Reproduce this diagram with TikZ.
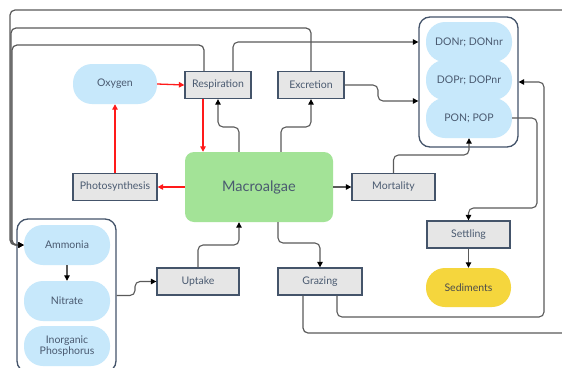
\documentclass[tikz,border=0pt]{standalone}
\usepackage{fontspec}
\setmainfont{Lato}
\usetikzlibrary{arrows.meta,positioning,calc}
\definecolor{txt}{HTML}{4A5A70}
\definecolor{bord}{HTML}{44546A}
\definecolor{boxfill}{HTML}{E6E6E6}
\definecolor{blue}{HTML}{C7E8FB}
\definecolor{green}{HTML}{A3E397}
\definecolor{yell}{HTML}{F5D63D}
\definecolor{conc}{HTML}{5A5A5A}
\definecolor{redc}{HTML}{FF1A1A}
\tikzset{
  procbox/.style={draw=bord, line width=1.3pt, fill=boxfill, minimum width=#1, minimum height=27pt, inner sep=0pt, text=txt, font=\fontsize{10.5}{12}\selectfont},
  procbox/.default=66pt,
  blob/.style={fill=blue, rounded corners=19pt, minimum width=#1, minimum height=40pt, inner sep=0pt, text=txt, font=\fontsize{10.5}{12}\selectfont, align=center},
  blob/.default=86pt,
  group/.style={draw=bord, line width=1.3pt, rounded corners=11pt, inner sep=0pt},
  conn/.style={draw=conc, line width=1.1pt, rounded corners=5pt, -{Triangle[length=5.5pt,width=5.5pt,color=black]}},
  loopc/.style={draw=conc, line width=1.2pt, rounded corners=5pt, -{Triangle[length=5.5pt,width=5.5pt,color=black]}},
  redarr/.style={draw=redc, line width=1.3pt, -{Triangle[length=5.5pt,width=5.5pt]}},
}
\begin{document}
\begin{tikzpicture}[x=1pt,y=-1pt]
\clip (0,0) rectangle (562,367);
\fill[white] (0,0) rectangle (562,367);
% groups
\node[group, minimum width=99pt, minimum height=130pt] (donbox) at (468.5,82) {};
\node[group, minimum width=99pt, minimum height=153pt] (nutbox) at (66.5,295.5) {};
% nodes
\node[blob=84pt] (oxy) at (115,84) {Oxygen};
\node[procbox] (resp) at (218,85) {Respiration};
\node[procbox] (exc) at (311,85) {Excretion};
\node[procbox=84pt] (photo) at (115,187) {Photosynthesis};
\node[fill=green, rounded corners=9pt, minimum width=148pt, minimum height=70pt, text=txt, font=\fontsize{14.5}{16}\selectfont] (alg) at (259,187) {Macroalgae};
\node[procbox=83pt] (mort) at (393.5,187) {Mortality};
\node[blob] (donr) at (469,42) {DONr; DONnr};
\node[blob] (dopr) at (469,80) {DOPr; DOPnr};
\node[blob] (pon) at (469,118) {PON; POP};
\node[procbox=83pt] (settl) at (468.5,234.5) {Settling};
\node[fill=yell, rounded corners=19pt, minimum width=85pt, minimum height=39pt, text=black!70, font=\fontsize{10.5}{12}\selectfont] (sed) at (468.5,287.5) {Sediments};
\node[procbox=84pt] (graz) at (320,281.5) {Grazing};
\node[procbox=82pt] (upt) at (198,281.5) {Uptake};
\node[blob] (amm) at (67,245) {Ammonia};
\node[blob] (nit) at (67,301) {Nitrate};
\node[blob] (inp) at (67,346) {Inorganic\\[-1pt]Phosphorus};
% red connectors
\draw[redarr] (oxy.east) -- (resp.west);
\draw[redarr] (photo.north) -- (oxy.south);
\draw[redarr] (alg.west) -- (photo.east);
\draw[redarr] ([xshift=-15pt]resp.south) -- ([xshift=-15pt]resp.south |- alg.north);
% macroalgae links
\draw[conn] ([xshift=-20pt]alg.north) -- (239,127) -| (resp.south);
\draw[conn] ([xshift=22pt]alg.north) -- (281,127) -| (exc.south);
\draw[conn] (alg.east) -- (mort.west);
\draw[conn] ([xshift=19pt]alg.south) -- (278,243) -| (graz.north);
\draw[conn] (upt.north) -- (198,245) -| ([xshift=-20pt]alg.south);
\draw[conn] (nutbox.east) -- (135,295.5) |- (upt.west);
\draw[conn] (amm.south) -- (nit.north);
% to DON box
\draw[conn] ([xshift=15pt]resp.north) |- (donbox.west |- donr.west);
\draw[conn] (exc.east) -- (378,85) |- ([yshift=-19pt]donbox.west);
\draw[conn] (mort.north) |- (469,155) -- (pon.south);
\draw[conn] ([xshift=17pt]graz.south) |- (544,317) |- (donbox.east);
\draw[conn] (pon.east) -| (537,208) -| (settl.north);
\draw[conn] (settl.south) -- (sed.north);
% big loops to Ammonia
\draw[loopc] ([xshift=-14pt]resp.north) |- (12,45) |- (amm.west);
\draw[loopc] (exc.north) |- (11,28) |- (amm.west);
\draw[loopc] ([xshift=-17pt]graz.south) |- (580,333) |- (10,10) |- (amm.west);
\end{tikzpicture}
\end{document}
